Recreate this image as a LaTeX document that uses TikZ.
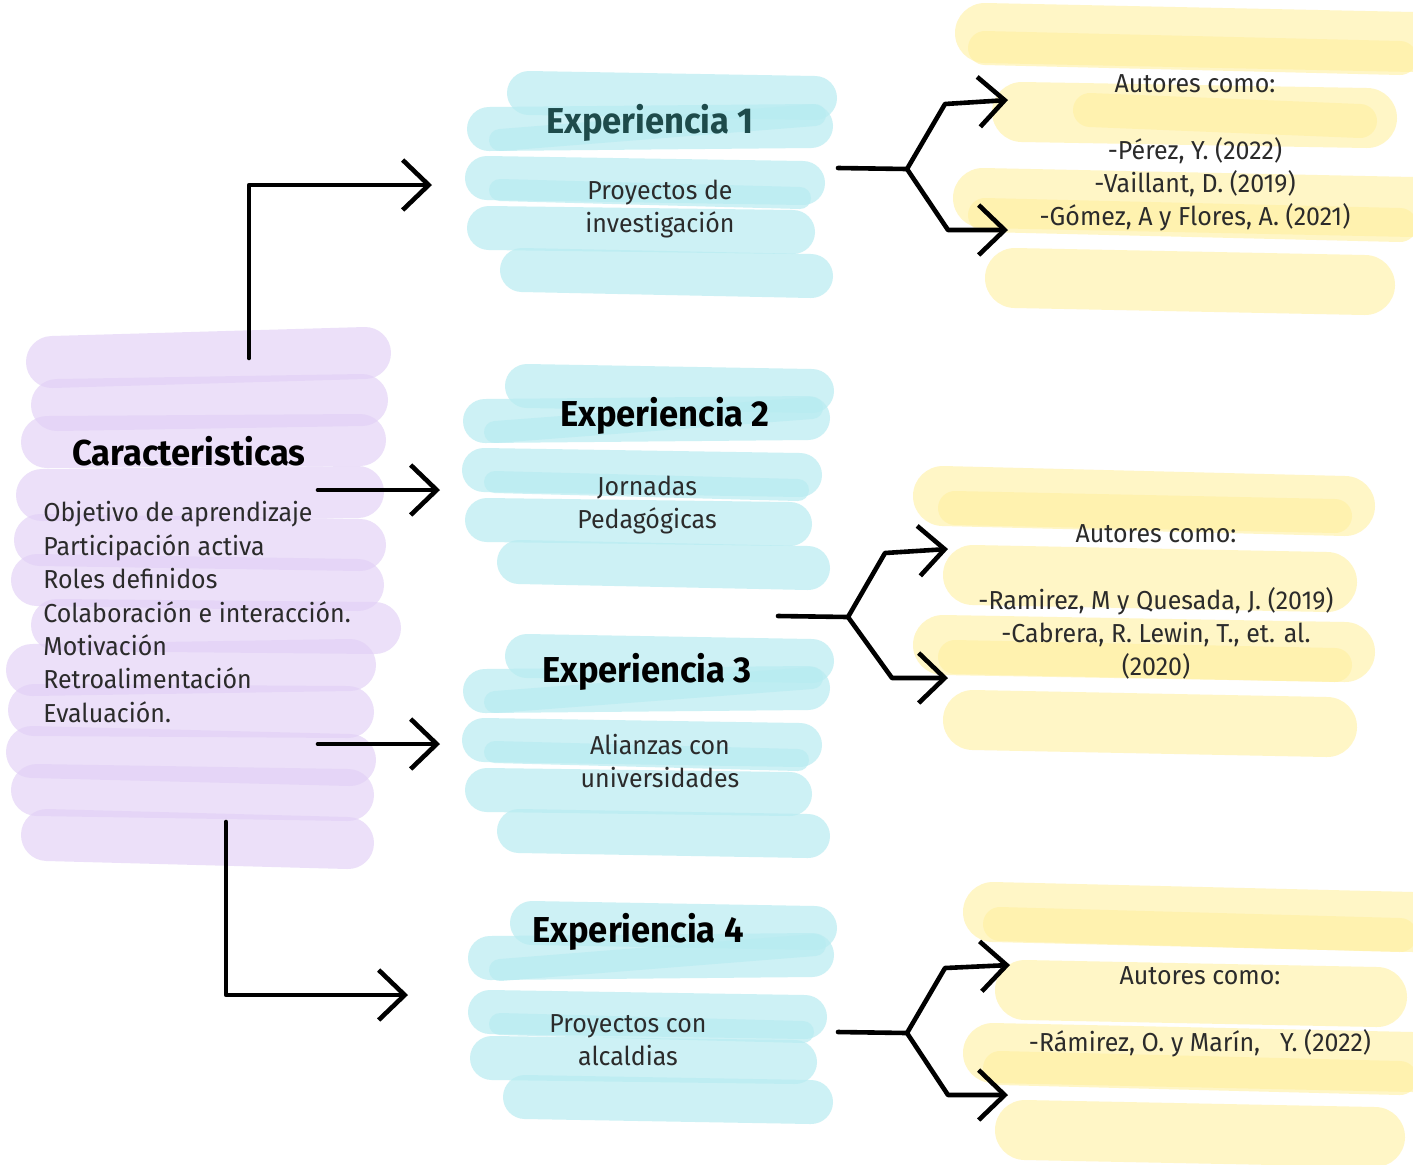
\documentclass[tikz,border=0pt]{standalone}
\usepackage{fontspec}
\setmainfont{Fira Sans}[FakeStretch=0.96]
\usetikzlibrary{arrows.meta}
\definecolor{cyanb}{HTML}{B8ECF1}
\definecolor{purpb}{HTML}{E2D0F6}
\definecolor{yellb}{HTML}{FFF0A0}
\definecolor{bodytxt}{HTML}{2B2B2B}
\definecolor{tealtxt}{HTML}{1E4B4B}
\tikzset{
  cb/.style={draw=cyanb, draw opacity=0.7, line width=22pt, line cap=round},
  cbi/.style={cb, line width=11pt},
  pb/.style={draw=purpb, draw opacity=0.65, line width=26pt, line cap=round},
  yb/.style={draw=yellb, draw opacity=0.6, line width=30pt, line cap=round},
  ybi/.style={yb, line width=17pt},
  conn/.style={draw=black, line width=2.3pt, line join=round, line cap=round},
  arr/.style={conn, -{Straight Barb[length=13pt,width=25pt,line width=2.3pt]}},
  title/.style={font=\fontsize{18}{21}\selectfont\bfseries, text=black, inner sep=0pt},
  body/.style={font=\fontsize{13}{16.7}\selectfont, text=bodytxt, align=center, inner sep=0pt},
}
\begin{document}
\begin{tikzpicture}[x=0.5pt,y=-0.5pt]
\fill[white] (0,0) rectangle (1413,1164);
\path[use as bounding box] (0,0) rectangle (1413,1164);

% ---------- purple blob ----------
\draw[pb] (52,362)--(365,353);
\draw[pb] (57,405)--(362,400);
\draw[pb] (47,442)--(360,440);
\draw[pb] (42,495)--(358,492);
\draw[pb] (40,540)--(360,545);
\draw[pb] (37,580)--(358,585);
\draw[pb] (57,625)--(375,628);
\draw[pb] (32,670)--(350,665);
\draw[pb] (34,710)--(348,712);
\draw[pb] (32,752)--(350,760);
\draw[pb] (37,790)--(348,795);
\draw[pb] (47,835)--(348,843);

% ---------- cyan blobs ----------
% Exp 1
\draw[cb] (529,93)--(815,98);
\draw[cb] (489,129)--(811,126);
\draw[cbi] (500,140)--(815,115);
\draw[cb] (487,178)--(803,183);
\draw[cb] (489,228)--(793,232);
\draw[cbi] (500,190)--(800,198);
\draw[cb] (522,270)--(811,276);
% Exp 2
\draw[cb] (527,386)--(812,391);
\draw[cb] (485,421)--(808,418);
\draw[cbi] (495,432)--(812,408);
\draw[cb] (484,470)--(800,475);
\draw[cbi] (495,482)--(798,490);
\draw[cb] (487,520)--(790,524);
\draw[cb] (519,562)--(808,568);
% Exp 3
\draw[cb] (527,656)--(812,661);
\draw[cb] (485,691)--(808,688);
\draw[cbi] (495,702)--(812,678);
\draw[cb] (484,740)--(800,745);
\draw[cbi] (495,752)--(798,760);
\draw[cb] (487,790)--(790,794);
\draw[cb] (519,831)--(808,836);
% Exp 4
\draw[cb] (532,923)--(815,928);
\draw[cb] (490,958)--(812,955);
\draw[cbi] (500,970)--(815,945);
\draw[cb] (490,1012)--(805,1017);
\draw[cbi] (500,1024)--(803,1032);
\draw[cb] (492,1058)--(795,1062);
\draw[cb] (525,1097)--(811,1102);

% ---------- yellow blobs ----------
\draw[yb] (985,33)--(1413,42);
\draw[ybi] (985,48)--(1400,58);
\draw[yb] (1022,112)--(1367,118);
\draw[ybi] (1090,110)--(1360,121);
\draw[yb] (983,198)--(1413,207);
\draw[ybi] (985,215)--(1400,225);
\draw[yb] (1015,278)--(1365,285);

\draw[yb] (943,496)--(1345,506);
\draw[ybi] (955,508)--(1335,516);
\draw[yb] (973,575)--(1327,582);
\draw[yb] (943,645)--(1345,652);
\draw[ybi] (955,657)--(1335,665);
\draw[yb] (973,720)--(1327,727);

\draw[yb] (993,912)--(1413,922);
\draw[ybi] (1000,924)--(1400,935);
\draw[yb] (1025,990)--(1377,997);
\draw[yb] (993,1053)--(1413,1062);
\draw[ybi] (1000,1068)--(1400,1078);
\draw[yb] (1025,1130)--(1375,1137);

% ---------- texts ----------
\node[title] (cartitle) at (189,451) {Caracteristicas};
\node[body, align=left, anchor=west] (carlist) at (43,612) {Objetivo de aprendizaje\\Participación activa\\Roles definidos\\Colaboración e interacción.\\Motivación\\Retroalimentación\\Evaluación.};

\node[title, text=tealtxt] (e1t) at (650,123) {Experiencia 1};
\node[body] (e1b) at (660,209) {Proyectos de\\investigación};
\node[title] (e2t) at (665,416) {Experiencia 2};
\node[body] (e2b) at (647,505) {Jornadas\\Pedagógicas};
\node[title] (e3t) at (647,672) {Experiencia 3};
\node[body] (e3b) at (660,761) {Alianzas con\\universidades};
\node[title] (e4t) at (638,932) {Experiencia 4};
\node[body] (e4b) at (628,1040) {Proyectos con\\alcaldias};

\node[body] (a1) at (1195,153) {Autores como:\\[16.7pt]-Pérez, Y. (2022)\\-Vaillant, D. (2019)\\-Gómez, A y Flores, A. (2021)};
\node[body] (a2) at (1156,602) {Autores como:\\[16.7pt]-Ramirez, M y Quesada, J. (2019)\\-Cabrera, R. Lewin, T., et. al.\\(2020)};
\node[body] (a3) at (1200,1012) {Autores como:\\[16.7pt]-Rámirez, O. y Marín,\ \ \ Y. (2022)};

% ---------- connectors ----------
\coordinate (c1s) at (249,358);
\coordinate (c1e) at (432,185);
\coordinate (c2s) at (318,490);
\coordinate (c2e) at (440,490);
\coordinate (c3s) at (318,744);
\coordinate (c3e) at (440,744);
\coordinate (c4s) at (226,822);
\coordinate (c4e) at (408,995);
\draw[arr] (c1s) |- (c1e);
\draw[arr] (c2s) -- (c2e);
\draw[arr] (c3s) -- (c3e);
\draw[arr] (c4s) |- (c4e);

% branch 1
\coordinate (b1s) at (838,168);
\coordinate (b1j) at (907,169);
\coordinate (b1u) at (945,104);
\coordinate (b1ue) at (1008,100);
\coordinate (b1d) at (948,230);
\coordinate (b1de) at (1008,230);
\draw[conn] (b1s) -- (b1j);
\draw[arr] (b1j) -- (b1u) -- (b1ue);
\draw[arr] (b1j) -- (b1d) -- (b1de);
% branch 2
\coordinate (b2s) at (778,616);
\coordinate (b2j) at (848,617);
\coordinate (b2u) at (885,553);
\coordinate (b2ue) at (948,549);
\coordinate (b2d) at (892,678);
\coordinate (b2de) at (948,678);
\draw[conn] (b2s) -- (b2j);
\draw[arr] (b2j) -- (b2u) -- (b2ue);
\draw[arr] (b2j) -- (b2d) -- (b2de);
% branch 3
\coordinate (b3s) at (838,1032);
\coordinate (b3j) at (907,1033);
\coordinate (b3u) at (945,968);
\coordinate (b3ue) at (1010,965);
\coordinate (b3d) at (948,1095);
\coordinate (b3de) at (1008,1095);
\draw[conn] (b3s) -- (b3j);
\draw[arr] (b3j) -- (b3u) -- (b3ue);
\draw[arr] (b3j) -- (b3d) -- (b3de);
\end{tikzpicture}
\end{document}
